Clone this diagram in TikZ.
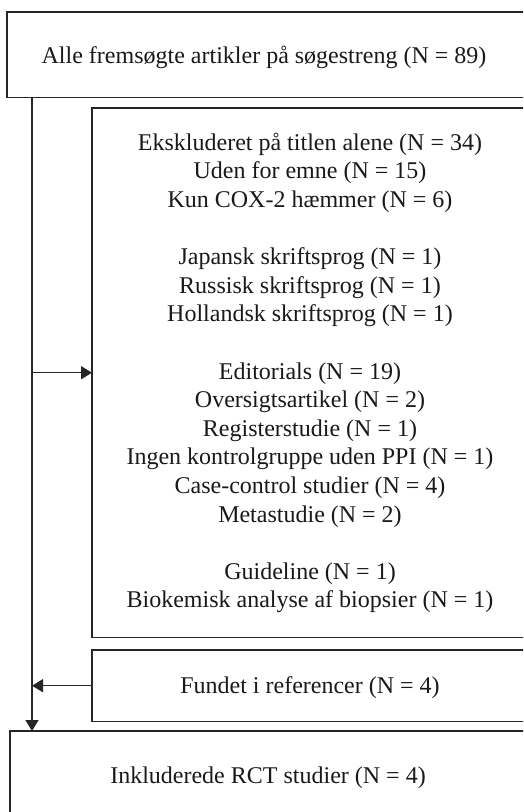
\documentclass[tikz,border=0pt]{standalone}
\usepackage{fontspec}
\setmainfont{Liberation Serif}
\usetikzlibrary{arrows.meta}
\begin{document}
\begin{tikzpicture}[x=1pt,y=-1pt,
  box/.style={rectangle, inner sep=0pt, anchor=north west},
  edge3/.style={draw=black!85, line width=1.5pt, line join=miter},
  lbl/.style={font=\fontsize{24}{28.6}\selectfont, align=center, inner sep=0pt, text=black!90},
  conn/.style={draw=black!85, line width=1.5pt, -{Triangle[length=11pt,width=13pt]}}]
\useasboundingbox (0,0) rectangle (523,812);
\clip (0,0) rectangle (523,812);
\node[box, minimum width=540pt, minimum height=85pt] (top) at (7,12) {};
\node[box, minimum width=450pt, minimum height=529pt] (excl) at (92,108) {};
\node[box, minimum width=450pt, minimum height=71pt] (fund) at (92,650) {};
\node[box, minimum width=530pt, minimum height=100pt] (bot) at (10,731) {};
\draw[edge3] (top.north east) -- (top.north west) -- (top.south west) -- (top.south east);
\draw[edge3] (excl.north east) -- (excl.north west) -- (excl.south west) -- (excl.south east);
\draw[edge3] (fund.north east) -- (fund.north west) -- (fund.south west) -- (fund.south east);
\draw[edge3] (bot.north east) -- (bot.north west) -- (bot.south west);
\node[lbl, anchor=base] (toptxt) at (264,63) {Alle fremsøgte artikler på søgestreng (N = 89)};
\node[lbl] (excltxt) at (310,373) {Ekskluderet på titlen alene (N = 34)\\
Uden for emne (N = 15)\\
Kun COX-2 hæmmer (N = 6)\\[28.6pt]
Japansk skriftsprog (N = 1)\\
Russisk skriftsprog (N = 1)\\
Hollandsk skriftsprog (N = 1)\\[28.6pt]
Editorials (N = 19)\\
Oversigtsartikel (N = 2)\\
Registerstudie (N = 1)\\
Ingen kontrolgruppe uden PPI (N = 1)\\
Case-control studier (N = 4)\\
Metastudie (N = 2)\\[28.6pt]
Guideline (N = 1)\\
Biokemisk analyse af biopsier (N = 1)};
\node[lbl, anchor=base] (fundtxt) at (310,693) {Fundet i referencer (N = 4)};
\node[lbl, anchor=base] (bottxt) at (268,783) {Inkluderede RCT studier (N = 4)};
\coordinate (vx) at (32,0);
\draw[conn] (vx |- top.south) -- (vx |- bot.north);
\draw[conn] (vx |- excl.west) -- (excl.west);
\draw[conn] (fund.west) -- (vx |- fund.west);
\end{tikzpicture}
\end{document}
